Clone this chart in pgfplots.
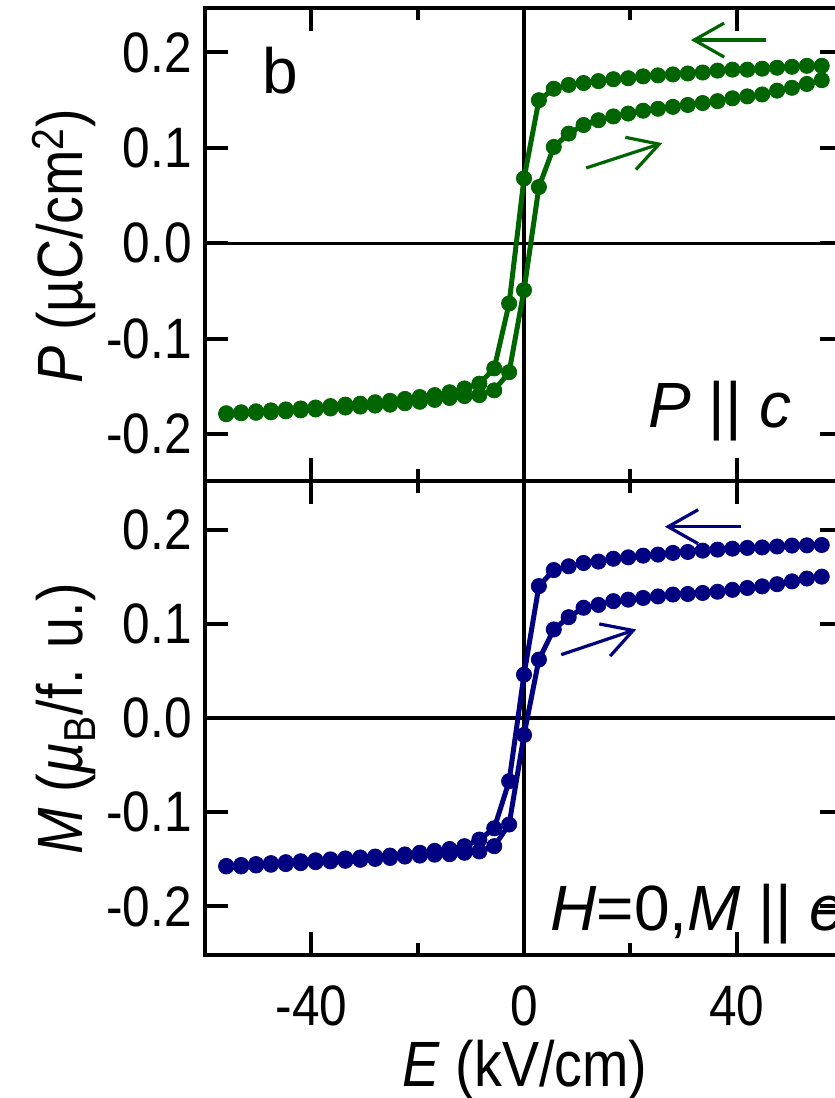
\documentclass[border=0pt]{standalone}
\usepackage{fontspec}
\setmainfont{Liberation Sans}[FakeStretch=0.87]
\newfontfamily\plainsans{Liberation Sans}
\usepackage{pgfplots}
\pgfplotsset{compat=1.18}
\usetikzlibrary{arrows.meta}
\definecolor{pgreen}{RGB}{0,100,0}
\definecolor{mblue}{RGB}{0,0,128}

\pgfplotstableread{
E P
56 0.186
53.2 0.186
50.4 0.185
47.6 0.184
44.8 0.183
42 0.182
39.2 0.182
36.4 0.181
33.6 0.179
30.8 0.178
28 0.177
25.2 0.176
22.4 0.175
19.6 0.173
16.8 0.172
14 0.170
11.2 0.168
8.4 0.166
5.6 0.162
2.8 0.150
0 0.068
-2.8 -0.063
-5.6 -0.131
-8.4 -0.147
-11.2 -0.152
-14 -0.156
-16.8 -0.159
-19.6 -0.161
-22.4 -0.163
-25.2 -0.165
-28 -0.1665
-30.8 -0.168
-33.6 -0.169
-36.4 -0.1705
-39.2 -0.172
-42 -0.173
-44.8 -0.174
-47.6 -0.175
-50.4 -0.176
-53.2 -0.177
-56 -0.178
}\Pdown

\pgfplotstableread{
E P
-56 -0.179
-53.2 -0.178
-50.4 -0.1775
-47.6 -0.177
-44.8 -0.176
-42 -0.175
-39.2 -0.174
-36.4 -0.173
-33.6 -0.172
-30.8 -0.171
-28 -0.170
-25.2 -0.169
-22.4 -0.1675
-19.6 -0.166
-16.8 -0.164
-14 -0.162
-11.2 -0.160
-8.4 -0.159
-5.6 -0.154
-2.8 -0.135
0 -0.049
2.8 0.059
5.6 0.101
8.4 0.115
11.2 0.124
14 0.129
16.8 0.133
19.6 0.136
22.4 0.139
25.2 0.141
28 0.143
30.8 0.145
33.6 0.147
36.4 0.149
39.2 0.152
42 0.154
44.8 0.156
47.6 0.160
50.4 0.163
53.2 0.167
56 0.171
}\Pup

\pgfplotstableread{
E M
56 0.1836
53.2 0.1832
50.4 0.183
47.6 0.182
44.8 0.181
42 0.1805
39.2 0.1797
36.4 0.1787
33.6 0.1776
30.8 0.1762
28 0.1752
25.2 0.1734
22.4 0.1723
19.6 0.1705
16.8 0.169
14 0.166
11.2 0.1645
8.4 0.161
5.6 0.157
2.8 0.140
0 0.046
-2.8 -0.067
-5.6 -0.117
-8.4 -0.129
-11.2 -0.136
-14 -0.139
-16.8 -0.141
-19.6 -0.143
-22.4 -0.1448
-25.2 -0.146
-28 -0.147
-30.8 -0.148
-33.6 -0.149
-36.4 -0.150
-39.2 -0.151
-42 -0.152
-44.8 -0.153
-47.6 -0.154
-50.4 -0.155
-53.2 -0.156
-56 -0.157
}\Mdown

\pgfplotstableread{
E M
-56 -0.1575
-53.2 -0.1575
-50.4 -0.1565
-47.6 -0.1557
-44.8 -0.155
-42 -0.154
-39.2 -0.153
-36.4 -0.1522
-33.6 -0.1515
-30.8 -0.1505
-28 -0.1495
-25.2 -0.1485
-22.4 -0.147
-19.6 -0.146
-16.8 -0.145
-14 -0.1445
-11.2 -0.143
-8.4 -0.1416
-5.6 -0.136
-2.8 -0.113
0 -0.018
2.8 0.062
5.6 0.094
8.4 0.107
11.2 0.117
14 0.120
16.8 0.124
19.6 0.1256
22.4 0.1274
25.2 0.129
28 0.131
30.8 0.1316
33.6 0.1327
36.4 0.134
39.2 0.136
42 0.138
44.8 0.1397
47.6 0.142
50.4 0.145
53.2 0.148
56 0.150
}\Mup

\pgfplotsset{
  panel/.style={
    scale only axis, width=319pt,
    xmin=-60, xmax=60,
    xtick={-40,0,40}, xticklabels={-40,0,40},
    minor xtick={-20,20},
    ytick={-0.2,-0.1,0,0.1,0.2},
    yticklabels={-0.2,-0.1,0.0,0.1,0.2},
    tick align=inside,
    major tick length=11.5pt, minor tick length=6pt,
    tick style={black, line width=2pt},
    axis line style={line width=2pt},
    /pgf/number format/assume math mode=true,
    tick label style={font=\fontsize{28.5}{30}\selectfont, inner sep=0pt},
    yticklabel style={xshift=-6.5pt},
    xticklabel style={yshift=-15pt},
  },
  ser/.style={color=#1, line width=2.5pt, mark=*, mark size=3.8pt,
    mark options={solid, fill=#1, draw=#1, line width=0.4pt}},
}

\begin{document}
\begin{tikzpicture}
\useasboundingbox (0,0) rectangle (417.5pt,-549pt);
\clip (0,0) rectangle (417.5pt,-549pt);

\begin{axis}[panel, height=236.5pt, at={(102.5pt,-240.5pt)}, anchor=south west,
  ymin=-0.249, ymax=0.2466, xticklabels={}]
  \draw[line width=1.8pt] (axis cs:0,-0.3) -- (axis cs:0,0.3);
  \draw[line width=1.8pt] (axis cs:-70,0) -- (axis cs:70,0);
  \addplot[ser=pgreen] table[x=E,y=P] {\Pdown};
  \addplot[ser=pgreen] table[x=E,y=P] {\Pup};
  \draw[pgreen, line width=1.6pt, -{Straight Barb[length=15pt,width=17pt]}] (axis cs:45.5,0.213) -- (axis cs:31.4,0.213);
  \draw[pgreen, line width=1.6pt, -{Straight Barb[length=15pt,width=17pt]}] (axis cs:11.7,0.079) -- (axis cs:26.0,0.105);
\end{axis}

\begin{axis}[panel, height=237pt, at={(102.5pt,-477.5pt)}, anchor=south west,
  ymin=-0.2515, ymax=0.2515]
  \draw[line width=1.8pt] (axis cs:0,-0.3) -- (axis cs:0,0.3);
  \draw[line width=1.8pt] (axis cs:-70,0) -- (axis cs:70,0);
  \addplot[ser=mblue] table[x=E,y=M] {\Mdown};
  \addplot[ser=mblue] table[x=E,y=M] {\Mup};
  \draw[mblue, line width=1.6pt, -{Straight Barb[length=15pt,width=17pt]}] (axis cs:40.8,0.203) -- (axis cs:26.5,0.203);
  \draw[mblue, line width=1.6pt, -{Straight Barb[length=15pt,width=17pt]}] (axis cs:7.0,0.0672) -- (axis cs:21.1,0.094);
\end{axis}

\begin{scope}[every node/.style={inner sep=0pt, font=\fontsize{32}{34}\selectfont}]
\node[anchor=base west, font=\plainsans\fontsize{32}{34}\selectfont] at (131pt,-46.5pt) {b};
\node[anchor=base west, font=\plainsans\fontsize{32}{34}\selectfont] at (324pt,-213.5pt) {\textit{P} || \textit{c}};
\node[anchor=base west, font=\plainsans\fontsize{32}{34}\selectfont] at (275pt,-465pt) {\textit{H}=0,\textit{M} || \textit{e}};
\node[rotate=90, anchor=base] at (41pt,-123pt) {\textit{P} (µC/cm\textsuperscript{2})};
\node[rotate=90, anchor=base] at (41pt,-359.5pt) {\textit{M} (\textit{µ}\textsubscript{B}/f. u.)};
\node[anchor=base] at (262.5pt,-543pt) {\textit{E} (kV/cm)};
\end{scope}
\end{tikzpicture}
\end{document}
